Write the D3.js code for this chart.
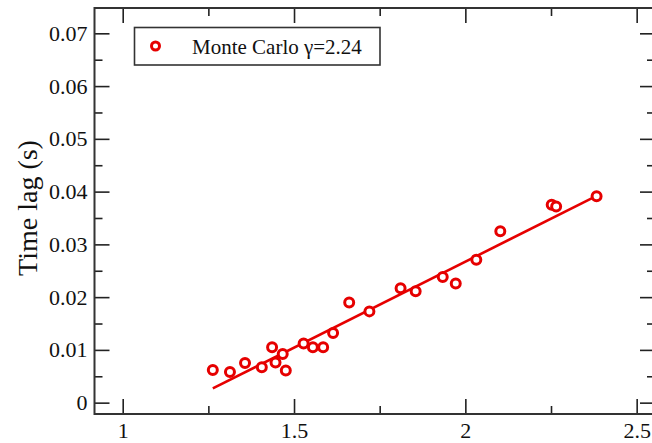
<!DOCTYPE html>
<html>
<head>
<meta charset="utf-8">
<script src="https://cdn.jsdelivr.net/npm/d3@7"></script>
<style>
  html, body { margin: 0; padding: 0; background: #fff; }
  svg { display: block; }
  text { font-family: "Liberation Serif", "Times New Roman", serif; fill: #111; }
</style>
</head>
<body>
<svg id="chart" width="652" height="443"></svg>
<script>
// Simulated time lag versus parameter value
const xValues = [1.263, 1.313, 1.357, 1.406, 1.436, 1.446, 1.467, 1.476, 1.528, 1.555, 1.585, 1.614,
                 1.661, 1.720, 1.811, 1.855, 1.934, 1.972, 2.032, 2.102, 2.252, 2.265, 2.383];
const lagValues = [0.0062, 0.0058, 0.0075, 0.0067, 0.0105, 0.0076, 0.0092, 0.0061, 0.0112, 0.0105, 0.0105, 0.0132,
                   0.0190, 0.0173, 0.0217, 0.0211, 0.0238, 0.0226, 0.0271, 0.0325, 0.0375, 0.0372, 0.0391];
// Linear trend through the points (end values)
const fitX = [1.263, 2.383];
const fitY = [0.0027, 0.0392];

const xTicks = [1, 1.5, 2, 2.5];
const xMinorTicks = [1.25, 1.75, 2.25];
const yTicks = [0, 0.01, 0.02, 0.03, 0.04, 0.05, 0.06, 0.07];
const yMinorTicks = [0.005, 0.015, 0.025, 0.035, 0.045, 0.055, 0.065];

const seriesName = "Monte Carlo γ=2.24";
const yTitle = "Time lag (s)";

const svg = d3.select("#chart");
const plotLeft = 94.5, plotRight = 655, plotTop = 8, plotBottom = 414;

const x = d3.scaleLinear().domain([0.9177, 2.5535]).range([plotLeft, plotRight]);
const y = d3.scaleLinear().domain([-0.00215, 0.0748]).range([plotBottom, plotTop]);

const red = "#e60000";
const axisColor = "#222";
const fmt = d => d === 0 ? "0" : String(d);

// Axes: major ticks 15px, minor 8px, drawn inward
function axisGroup(axis, tx, ty) {
  const g = svg.append("g").attr("transform", `translate(${tx},${ty})`).call(axis);
  g.select(".domain").remove();
  g.selectAll("line").attr("stroke", axisColor).attr("stroke-width", 1.6);
  return g;
}

const bottomMajor = axisGroup(d3.axisBottom(x).tickValues(xTicks).tickSize(-15).tickPadding(8).tickFormat(fmt), 0, plotBottom);
bottomMajor.selectAll("text").attr("font-size", 22).attr("font-family", "Liberation Serif").attr("fill", "#111");
axisGroup(d3.axisBottom(x).tickValues(xMinorTicks).tickSize(-8).tickFormat(""), 0, plotBottom);
axisGroup(d3.axisTop(x).tickValues(xTicks).tickSize(-15).tickFormat(""), 0, plotTop);
axisGroup(d3.axisTop(x).tickValues(xMinorTicks).tickSize(-8).tickFormat(""), 0, plotTop);

const leftMajor = axisGroup(d3.axisLeft(y).tickValues(yTicks).tickSize(-15).tickPadding(7).tickFormat(fmt), plotLeft, 0);
leftMajor.selectAll("text").attr("font-size", 22).attr("font-family", "Liberation Serif").attr("fill", "#111");
axisGroup(d3.axisLeft(y).tickValues(yMinorTicks).tickSize(-8).tickFormat(""), plotLeft, 0);
axisGroup(d3.axisRight(y).tickValues(yTicks).tickSize(-15).tickFormat(""), plotRight, 0);
axisGroup(d3.axisRight(y).tickValues(yMinorTicks).tickSize(-8).tickFormat(""), plotRight, 0);

// Frame
svg.append("rect")
  .attr("x", plotLeft).attr("y", plotTop)
  .attr("width", plotRight - plotLeft).attr("height", plotBottom - plotTop)
  .attr("fill", "none").attr("stroke", "#333").attr("stroke-width", 2);

// Axis title
svg.append("text")
  .attr("transform", `translate(37,208) rotate(-90)`)
  .attr("text-anchor", "middle")
  .attr("font-size", 28)
  .text(yTitle);

// Fit line
const line = d3.line().x(d => x(d[0])).y(d => y(d[1]));
svg.append("path")
  .datum(d3.zip(fitX, fitY))
  .attr("d", line)
  .attr("fill", "none").attr("stroke", red).attr("stroke-width", 2.6);

// Data points
svg.append("g").selectAll("circle")
  .data(d3.zip(xValues, lagValues))
  .join("circle")
  .attr("cx", d => x(d[0])).attr("cy", d => y(d[1]))
  .attr("r", 4.5)
  .attr("fill", "#fff").attr("stroke", red).attr("stroke-width", 3);

// Legend
const lg = svg.append("g");
lg.append("rect")
  .attr("x", 134.5).attr("y", 27.5).attr("width", 245.5).attr("height", 37.5)
  .attr("fill", "#fff").attr("stroke", "#333").attr("stroke-width", 1.6);
lg.append("circle")
  .attr("cx", 155.5).attr("cy", 46)
  .attr("r", 4).attr("fill", "#fff").attr("stroke", red).attr("stroke-width", 3);
lg.append("text")
  .attr("x", 192).attr("y", 53.5)
  .attr("font-size", 21)
  .text(seriesName);
</script>
</body>
</html>
